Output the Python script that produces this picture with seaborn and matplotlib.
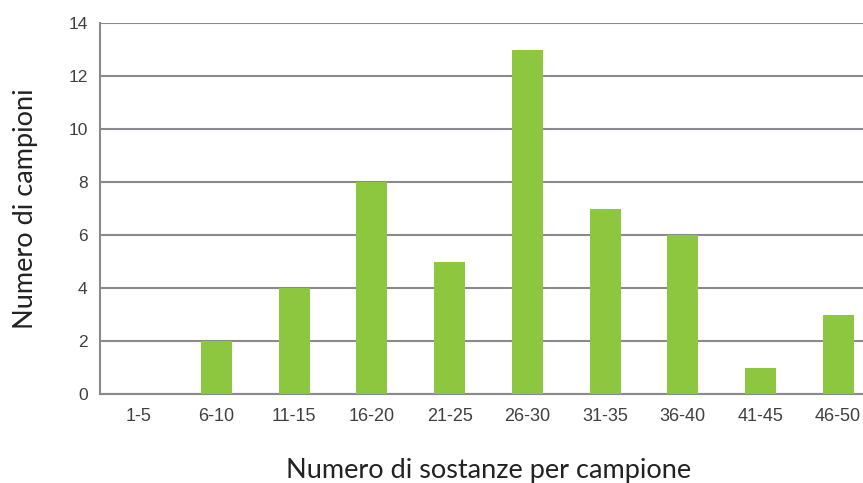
import numpy as np
import pandas as pd
import seaborn as sns
import matplotlib.pyplot as plt

categories = ['1-5', '6-10', '11-15', '16-20', '21-25', '26-30', '31-35', '36-40', '41-45', '46-50']
counts = [0, 2, 4, 8, 5, 13, 7, 6, 1, 3]
y_ticks = [0, 2, 4, 6, 8, 10, 12, 14]

df = pd.DataFrame({'fascia': categories, 'campioni': counts})

sns.set_style('white')
plt.rcParams['font.family'] = ['Liberation Sans', 'DejaVu Sans']

grey = '#8a8a8e'
fig = plt.figure(figsize=(8.63, 4.83), dpi=100)
ax = fig.add_axes([100 / 863, 89 / 483, 777 / 863, 371 / 483])

sns.barplot(data=df, x='fascia', y='campioni', color='#8dc63f', width=0.4,
            saturation=1, linewidth=0, ax=ax, zorder=3)

ax.set_xlim(-0.5, len(categories) - 0.5)
ax.set_ylim(0, 14)
ax.set_yticks(y_ticks)
ax.yaxis.grid(True, color=grey, linewidth=1.5, zorder=0)
ax.set_axisbelow(True)

for side in ['top', 'right']:
    ax.spines[side].set_visible(False)
for side in ['left', 'bottom']:
    ax.spines[side].set_color(grey)
    ax.spines[side].set_linewidth(1.5)

# ticks between categories on the x axis
ax.set_xticks(np.arange(len(categories) + 1) - 0.5, minor=True)
ax.tick_params(axis='x', which='major', length=0, labelsize=13, labelcolor='#404040', pad=10)
ax.tick_params(axis='x', which='minor', length=6, width=1.5, color=grey, direction='out')
ax.tick_params(axis='y', length=6, width=1.5, color=grey, labelsize=12.5, labelcolor='#404040', pad=3)

ax.set_xlabel('Numero di sostanze per campione', fontsize=19.5, family=['Lato', 'DejaVu Sans'],
              labelpad=24, color='#222222')
ax.set_ylabel('Numero di campioni', fontsize=19.5, family=['Lato', 'DejaVu Sans'],
              labelpad=22, color='#222222')

fig.savefig('out.png', dpi=100)
